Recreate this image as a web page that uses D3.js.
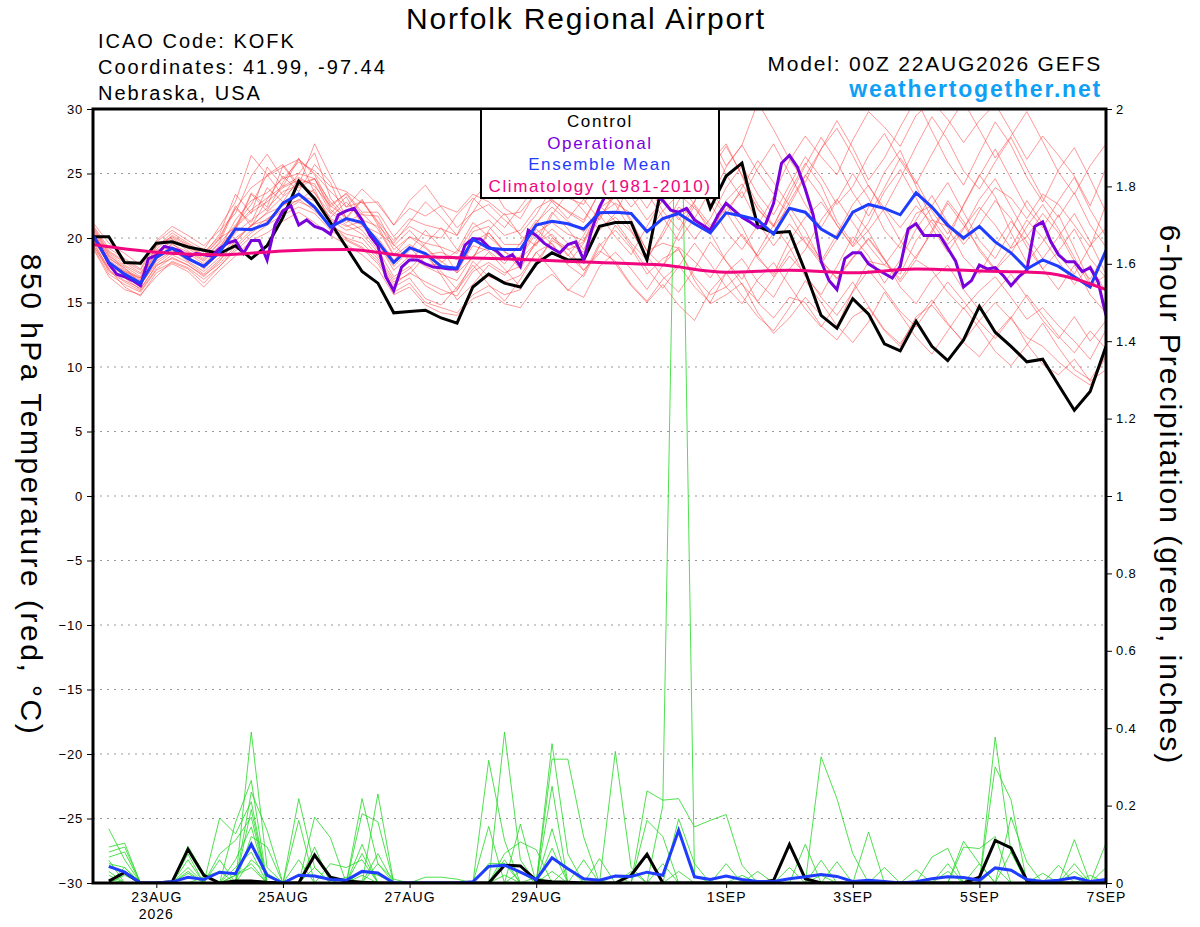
<!DOCTYPE html>
<html>
<head>
<meta charset="utf-8">
<script src="https://cdn.jsdelivr.net/npm/d3@7"></script>
<style>
  body { margin: 0; background: #fff; }
  text { font-family: "Liberation Sans", Arial, sans-serif; }
</style>
</head>
<body>
<div id="chart-area"></div>
<script>
// ---- data ----
var startTime = "2026-08-22T00:00:00Z";
var endTime = "2026-09-07T00:00:00Z";

var tickDates = ["2026-08-23T00:00:00Z", "2026-08-25T00:00:00Z", "2026-08-27T00:00:00Z", "2026-08-29T00:00:00Z",
                 "2026-09-01T00:00:00Z", "2026-09-03T00:00:00Z", "2026-09-05T00:00:00Z", "2026-09-07T00:00:00Z"];
var tickLabels = ["23AUG", "25AUG", "27AUG", "29AUG", "1SEP", "3SEP", "5SEP", "7SEP"];
var tempTicks = [30, 25, 20, 15, 10, 5, 0, -5, -10, -15, -20, -25, -30];
var gridTemps = [25, 20, 15, 10, 5, 0, -5, -10, -15, -20, -25];
var precipTicks = [0, 0.2, 0.4, 0.6, 0.8, 1, 1.2, 1.4, 1.6, 1.8, 2];
var legendNames = ["Control", "Operational", "Ensemble Mean", "Climatology (1981-2010)"];

// 6-hourly, 22AUG 00Z .. 7SEP 00Z
var controlTemp = [20.1, 20.1, 18.1, 18.05, 19.6, 19.7, 19.3, 19.05, 18.8,
  19.4, 18.4, 19.4, 21.6, 24.4, 23.05, 21.2, 19.3, 17.4,
  16.5, 14.2, 14.3, 14.4, 13.8, 13.4, 16.2, 17.2, 16.5,
  16.2, 18.0, 18.85, 18.3, 18.3, 20.9, 21.2, 21.2, 18.3,
  24.5, 24.0, 26.0, 22.3, 24.8, 25.8, 20.9, 20.4, 20.5,
  17.4, 14.0, 13.0, 15.3, 14.1, 11.8, 11.25, 13.55, 11.6,
  10.5, 12.1, 14.7, 12.7, 11.6, 10.4, 10.6, 8.6, 6.65, 8.1, 11.6];

var meanTemp = [20.2, 18.1, 17.2, 16.5, 18.5, 19.2, 18.4, 17.8, 18.9,
  20.7, 20.65, 21.1, 22.7, 23.4, 22.4, 20.85, 21.5, 21.2,
  19.7, 18.1, 19.25, 18.8, 17.8, 17.65, 19.9, 19.2, 19.1,
  19.1, 21.0, 21.3, 21.1, 20.7, 21.95, 22.0, 21.9, 20.5,
  21.5, 21.9, 21.1, 20.4, 21.95, 21.7, 21.4, 20.3, 22.3,
  22.0, 20.7, 20.0, 22.0, 22.6, 22.3, 21.8, 23.5, 22.4,
  21.0, 20.0, 20.9, 19.7, 18.85, 17.6, 18.3, 17.8, 17.0, 16.2, 19.05];

// operational run, 3-hourly
var operTemp = [20.2, 19.2, 18.0, 17.2, 17.0, 16.7, 16.3, 18.4, 18.65, 19.35,
  19.2, 19.0, 18.5, 18.8, 18.7, 18.6, 19.2, 19.6, 19.8, 18.8,
  19.8, 19.8, 18.3, 21.0, 22.1, 22.5, 21.0, 21.4, 20.9, 20.7,
  20.3, 21.8, 22.1, 22.3, 21.4, 20.2, 19.4, 17.0, 15.9, 17.75,
  18.3, 18.3, 18.0, 17.75, 17.7, 17.6, 17.6, 19.45, 19.95, 19.9,
  19.3, 19.0, 18.4, 18.7, 17.8, 20.6, 20.2, 19.6, 19.2, 18.85,
  19.5, 19.7, 18.3, 20.6, 22.4, 23.6, 24.2, 24.0, 23.6, 24.1,
  23.6, 23.3, 22.9, 22.15, 22.0, 22.3, 21.4, 21.0, 20.6, 21.8,
  22.7, 22.15, 21.6, 21.25, 20.8, 21.1, 22.7, 25.8, 26.4, 25.5,
  23.8, 21.8, 18.2, 16.7, 16.0, 18.4, 18.85, 18.85, 18.0, 17.6,
  17.25, 16.9, 17.8, 20.7, 21.1, 20.2, 20.2, 20.2, 19.2, 18.2,
  16.2, 16.7, 17.9, 17.6, 17.7, 17.1, 16.3, 17.0, 17.5, 20.9,
  21.25, 19.75, 18.7, 18.15, 18.15, 17.4, 17.7, 16.6, 14.0];

// climatology, daily
var climTemp = [19.5, 18.9, 18.7, 19.0, 19.1, 18.6, 18.45, 18.3, 18.1, 17.9, 17.35, 17.5, 17.3, 17.6, 17.45, 17.3, 16.0];

// ensemble members, 6-hourly
var memberTemps = [
  [20.5, 18.5, 17.5, 16.8, 18.8, 19.5, 18.9, 18.2, 19.4,
   20.6, 23.4, 22.1, 24.3, 26.2, 23.5, 21.9, 23.2, 21.0,
   20.4, 19.5, 18.2, 19.6, 20.8, 19.1, 18.4, 20.6, 21.9,
   20.2, 19.4, 21.8, 23.5, 22.1, 20.6, 21.9, 24.3, 25.6,
   23.1, 21.4, 22.8, 25.9, 27.3, 24.8, 22.2, 20.9, 23.6,
   25.8, 24.1, 21.3, 19.6, 22.4, 25.1, 26.8, 24.0, 21.5,
   19.8, 22.6, 24.9, 23.2, 20.4, 18.1, 19.7, 21.8, 19.2, 16.5, 18.7],
  [19.3, 17.2, 16.4, 15.8, 17.5, 18.1, 17.6, 16.5, 17.8,
   19.0, 20.1, 21.0, 21.8, 22.4, 21.9, 20.6, 19.8, 19.2,
   18.0, 16.2, 16.9, 15.3, 14.8, 16.2, 17.9, 16.4, 15.1,
   16.8, 18.9, 17.5, 15.9, 17.2, 19.6, 18.0, 16.3, 15.0,
   16.4, 14.8, 13.6, 15.9, 17.3, 15.5, 13.9, 12.8, 14.6,
   16.7, 15.0, 13.2, 11.9, 13.5, 15.8, 14.1, 12.3, 11.0,
   12.8, 14.6, 13.0, 11.2, 10.1, 11.7, 13.4, 11.5, 9.8, 9.0, 10.9],
  [21.2, 19.6, 18.8, 17.9, 19.7, 20.6, 19.8, 19.1, 20.9,
   22.8, 26.4, 24.9, 25.7, 24.1, 27.3, 24.8, 22.4, 23.8,
   22.6, 21.0, 22.9, 24.1, 22.4, 20.8, 22.0, 23.9, 25.0,
   23.2, 24.8, 26.9, 25.0, 23.4, 24.7, 27.5, 29.2, 27.0,
   25.1, 26.8, 29.4, 28.0, 25.6, 27.2, 30.5, 28.4, 26.1,
   24.3, 26.9, 29.1, 27.0, 24.5, 26.2, 28.6, 30.8, 28.3,
   25.9, 24.1, 26.6, 29.0, 27.2, 24.7, 22.8, 25.3, 27.0, 24.6, 22.0],
  [20.0, 18.2, 17.0, 16.3, 18.2, 19.0, 18.6, 17.6, 18.8,
   20.4, 21.4, 22.3, 23.6, 24.1, 23.5, 21.5, 20.9, 21.3,
   19.6, 17.8, 19.0, 20.6, 19.2, 17.3, 18.5, 20.4, 19.0,
   17.6, 19.8, 22.0, 20.7, 19.1, 21.6, 23.3, 21.2, 19.0,
   17.8, 20.3, 22.5, 20.4, 18.2, 16.8, 18.9, 21.0, 19.3,
   17.0, 15.6, 17.8, 20.1, 18.6, 16.5, 18.3, 20.7, 22.4,
   20.8, 18.5, 17.2, 19.4, 21.3, 19.7, 17.6, 16.0, 17.9, 15.6, 14.2],
  [20.8, 18.9, 18.1, 17.3, 19.1, 20.2, 19.5, 18.7, 20.3,
   23.4, 21.9, 25.5, 24.0, 26.1, 24.9, 22.6, 23.4, 21.8,
   21.7, 19.4, 20.6, 19.3, 18.2, 17.3, 19.7, 20.4, 18.9,
   18.4, 19.6, 20.3, 18.7, 17.5, 19.0, 18.2, 16.4, 15.1,
   16.8, 17.9, 16.2, 15.0, 17.3, 18.4, 16.6, 15.4, 17.6,
   19.1, 21.4, 23.0, 21.2, 19.4, 17.9, 19.6, 21.9, 22.5,
   24.3, 22.0, 19.8, 18.4, 20.6, 22.9, 21.1, 18.7, 17.2, 19.4, 20.8],
  [19.6, 17.7, 16.9, 16.0, 17.9, 18.4, 17.9, 17.1, 18.0,
   19.4, 20.6, 21.5, 22.2, 23.0, 22.1, 20.9, 20.3, 20.0,
   18.6, 16.8, 17.6, 18.9, 17.1, 15.2, 16.4, 17.9, 17.1,
   18.6, 20.7, 19.5, 18.0, 19.6, 21.8, 20.1, 18.7, 20.9,
   23.0, 21.6, 19.9, 21.5, 23.9, 25.6, 23.4, 21.8, 24.1,
   26.3, 24.7, 22.6, 24.0, 26.4, 28.1, 26.0, 24.2, 26.5,
   28.7, 30.6, 28.4, 26.2, 27.9, 29.8, 27.5, 25.1, 23.4, 25.6, 27.3],
  [20.1, 18.0, 17.3, 16.6, 18.6, 19.1, 18.2, 17.4, 18.5,
   20.0, 20.9, 22.0, 23.2, 24.2, 24.6, 22.8, 21.4, 20.6,
   19.1, 17.0, 17.8, 16.3, 15.6, 15.9, 18.2, 17.0, 16.6,
   17.1, 18.9, 19.6, 17.9, 17.0, 19.4, 20.6, 19.2, 17.2,
   18.4, 19.1, 17.0, 15.6, 16.2, 17.4, 15.0, 13.8, 15.4,
   15.0, 13.2, 12.1, 13.9, 14.6, 12.8, 11.6, 13.9, 14.8,
   13.3, 12.0, 13.6, 15.0, 13.7, 12.3, 11.6, 10.4, 9.4, 8.6, 10.8],
  [20.4, 18.6, 17.8, 17.0, 19.4, 20.0, 19.2, 18.4, 19.6,
   21.0, 22.6, 24.9, 23.3, 25.0, 26.6, 23.1, 21.6, 23.0,
   21.0, 19.6, 21.2, 22.8, 21.6, 20.2, 22.9, 24.4, 22.3,
   21.5, 23.6, 26.8, 25.4, 23.6, 25.9, 28.7, 30.4, 28.1,
   26.0, 27.9, 29.8, 27.5, 24.9, 23.1, 25.4, 27.3, 25.0,
   22.6, 20.8, 22.9, 25.0, 23.1, 20.6, 19.2, 21.4, 23.3,
   21.2, 19.5, 21.0, 22.9, 21.5, 19.3, 17.6, 19.0, 20.7, 18.4, 16.9],
  [19.8, 17.5, 16.7, 16.1, 17.8, 18.7, 18.1, 17.2, 18.3,
   19.7, 21.0, 21.4, 22.6, 22.9, 23.8, 21.2, 20.0, 19.6,
   18.4, 16.6, 17.2, 18.6, 17.4, 16.0, 17.6, 18.9, 17.6,
   16.2, 17.8, 20.0, 19.2, 17.5, 18.8, 21.0, 19.4, 17.6,
   16.1, 17.8, 19.6, 18.0, 16.2, 14.9, 16.8, 18.1, 16.3,
   14.5, 13.1, 14.9, 16.6, 14.7, 12.9, 11.8, 13.6, 15.2,
   13.4, 11.9, 10.8, 12.5, 13.9, 11.8, 10.2, 9.4, 10.6, 8.9, 9.8],
  [20.6, 18.7, 17.6, 16.9, 19.0, 19.7, 19.3, 18.6, 19.9,
   22.5, 20.9, 23.0, 24.8, 23.6, 25.7, 24.3, 21.5, 22.9,
   21.3, 19.8, 20.9, 20.2, 20.0, 21.8, 23.1, 21.9, 20.8,
   22.4, 24.1, 22.8, 21.5, 23.0, 25.2, 24.0, 22.4, 23.8,
   26.1, 27.6, 25.4, 23.2, 21.8, 23.9, 26.0, 24.3, 22.5,
   24.8, 26.9, 28.5, 26.4, 24.0, 22.3, 24.6, 27.1, 29.4,
   27.6, 25.2, 23.8, 25.9, 27.8, 25.4, 23.1, 21.6, 23.5, 21.0, 19.3],
  [19.9, 17.9, 17.1, 16.4, 18.0, 18.9, 18.4, 17.8, 19.0,
   20.8, 22.0, 22.8, 23.9, 24.5, 24.2, 22.0, 21.0, 20.3,
   18.9, 15.8, 16.5, 15.0, 14.6, 14.2, 15.6, 16.3, 15.6,
   16.0, 18.2, 19.8, 19.1, 19.7, 22.6, 24.0, 23.2, 21.4,
   22.9, 24.2, 22.6, 21.0, 22.2, 23.6, 21.2, 19.4, 21.1,
   19.6, 18.0, 19.9, 22.1, 20.5, 18.3, 16.8, 18.6, 20.4,
   22.7, 21.0, 19.2, 17.6, 19.3, 21.4, 20.0, 18.2, 16.4, 17.9, 15.8],
  [20.3, 18.3, 17.4, 16.7, 18.4, 19.3, 18.8, 18.0, 19.2,
   21.4, 22.9, 23.5, 24.6, 25.0, 24.6, 22.2, 21.2, 21.9,
   20.7, 18.6, 19.5, 18.7, 18.9, 18.3, 20.5, 20.9, 19.5,
   19.5, 21.2, 22.4, 21.3, 20.5, 22.3, 23.2, 21.4, 19.0,
   19.6, 19.2, 16.7, 14.9, 15.6, 16.5, 14.2, 12.6, 13.8,
   15.4, 14.0, 13.1, 15.9, 18.2, 17.9, 17.2, 19.8, 21.4,
   20.9, 19.8, 22.1, 23.9, 23.1, 21.5, 23.4, 22.6, 21.0, 19.3, 22.6],
  [21.0, 19.2, 18.4, 17.6, 19.8, 20.9, 20.2, 19.4, 20.6,
   21.9, 24.8, 26.5, 24.6, 25.9, 25.2, 24.0, 23.6, 22.7,
   22.8, 21.0, 22.3, 21.7, 22.5, 22.0, 23.4, 22.8, 21.8,
   22.0, 23.5, 24.2, 23.1, 22.6, 24.9, 26.4, 25.3, 23.5,
   21.6, 19.8, 21.5, 23.7, 22.0, 20.1, 18.6, 20.4, 22.8,
   24.9, 23.2, 21.0, 19.4, 21.2, 23.6, 25.3, 23.1, 20.8,
   18.9, 20.7, 23.0, 24.6, 22.4, 20.2, 18.4, 20.1, 21.9, 19.7, 17.2],
  [19.5, 17.4, 16.6, 15.9, 17.6, 18.5, 17.9, 17.0, 18.2,
   19.8, 21.0, 21.9, 22.5, 23.3, 22.9, 21.4, 20.6, 20.9,
   19.6, 17.5, 18.6, 17.8, 17.2, 16.7, 18.6, 19.3, 18.3,
   18.5, 20.4, 21.2, 20.3, 19.8, 21.8, 22.7, 21.9, 20.4,
   22.1, 23.4, 22.3, 20.8, 22.9, 24.2, 22.3, 20.9, 22.4,
   20.6, 18.2, 16.9, 18.5, 20.0, 18.4, 16.2, 14.9, 16.8,
   17.9, 16.0, 14.4, 15.8, 17.2, 15.4, 13.6, 12.2, 13.9, 12.0, 13.6],
  [20.7, 18.8, 17.9, 17.2, 19.3, 20.4, 19.6, 18.9, 20.1,
   22.3, 23.9, 24.8, 25.5, 26.1, 25.0, 23.6, 22.4, 22.8,
   21.2, 19.1, 20.1, 19.6, 19.3, 18.8, 20.8, 21.4, 20.2,
   20.6, 22.3, 23.0, 22.0, 21.2, 23.6, 25.3, 24.1, 22.3,
   24.4, 26.1, 24.5, 23.0, 25.5, 27.2, 25.1, 23.4, 26.0,
   27.9, 26.3, 24.9, 27.6, 29.8, 28.6, 27.1, 29.5, 30.6,
   29.2, 27.4, 29.1, 30.4, 28.3, 26.1, 27.9, 26.4, 24.8, 22.5, 25.4],
  [20.2, 18.4, 17.7, 16.5, 18.3, 19.6, 18.5, 17.9, 19.1,
   20.9, 22.2, 23.1, 24.0, 24.7, 24.0, 22.5, 21.6, 21.0,
   20.0, 18.3, 19.3, 18.0, 17.9, 17.5, 19.4, 19.0, 18.0,
   19.6, 21.4, 20.1, 18.6, 20.2, 22.5, 21.3, 19.6, 18.3,
   20.5, 22.9, 24.6, 22.7, 20.5, 19.1, 21.0, 23.2, 21.9,
   19.7, 18.2, 20.3, 22.6, 24.1, 22.0, 19.8, 18.4, 20.6,
   22.9, 21.3, 19.0, 17.5, 18.8, 20.9, 22.6, 20.7, 18.5, 16.3, 17.1],
  [19.4, 17.6, 16.2, 15.5, 17.3, 18.0, 17.4, 16.2, 17.5,
   18.6, 19.8, 20.4, 21.3, 22.0, 21.2, 20.2, 19.5, 18.7,
   17.6, 15.6, 16.2, 14.8, 14.2, 14.0, 15.3, 15.8, 14.9,
   14.6, 16.3, 17.2, 16.0, 15.4, 17.8, 18.9, 17.6, 16.0,
   17.9, 19.3, 18.2, 16.9, 18.8, 20.3, 18.6, 17.0, 19.0,
   20.1, 18.3, 16.8, 18.4, 19.9, 18.3, 16.6, 18.3, 17.5,
   15.8, 14.5, 15.9, 17.0, 15.4, 13.7, 14.6, 13.2, 12.0, 10.6, 12.9],
  [20.9, 19.0, 18.2, 17.5, 19.5, 20.1, 19.4, 18.6, 20.0,
   20.8, 23.5, 22.4, 25.6, 23.9, 24.6, 22.4, 23.5, 22.0,
   22.0, 20.1, 21.5, 21.0, 20.7, 20.2, 22.0, 22.6, 21.4,
   20.3, 21.8, 23.9, 25.1, 23.0, 21.4, 23.7, 26.0, 24.2,
   22.1, 20.6, 22.8, 25.3, 27.1, 24.9, 22.6, 21.0, 23.2,
   25.6, 27.8, 25.9, 23.5, 21.7, 23.9, 26.2, 24.4, 22.1,
   20.3, 22.5, 24.8, 26.9, 24.6, 22.3, 20.8, 22.9, 24.7, 22.2, 20.1],
  [20.0, 18.1, 17.4, 16.9, 18.9, 19.9, 19.0, 18.3, 19.7,
   22.3, 21.2, 23.9, 22.8, 24.6, 23.0, 21.6, 22.8, 21.4,
   20.9, 18.7, 20.1, 19.2, 18.1, 19.0, 21.2, 20.1, 19.0,
   19.2, 21.1, 22.9, 22.1, 21.4, 23.5, 22.6, 20.6, 18.5,
   20.2, 22.4, 21.6, 20.3, 22.6, 20.9, 18.4, 17.2, 19.8,
   21.6, 22.8, 21.0, 19.3, 20.6, 22.3, 20.8, 22.5, 21.2,
   19.5, 20.8, 22.4, 21.0, 19.2, 20.1, 21.9, 20.4, 18.2, 16.8, 18.9],
  [19.2, 17.0, 16.0, 15.6, 17.0, 18.2, 17.7, 16.8, 17.8,
   19.2, 20.4, 21.3, 22.1, 22.8, 22.3, 21.0, 19.9, 19.3,
   18.2, 16.4, 17.3, 16.6, 16.0, 15.5, 17.4, 18.1, 17.3,
   17.8, 19.6, 20.7, 19.6, 18.9, 20.8, 21.6, 20.5, 18.6,
   17.0, 15.8, 17.6, 19.7, 18.2, 16.4, 15.1, 16.9, 18.6,
   17.2, 15.4, 14.0, 15.8, 17.5, 16.0, 14.3, 13.1, 14.9,
   16.6, 15.1, 13.5, 12.2, 13.8, 15.6, 14.0, 12.4, 11.1, 12.8, 11.4]
];

// 6-hour precipitation, 22AUG 06Z .. 7SEP 00Z
var controlPrecip = [0.005, 0.027, 0, 0, 0.003, 0.087, 0.02, 0,
  0.005, 0.005, 0.002, 0, 0, 0.072, 0.015, 0.005,
  0.002, 0, 0, 0, 0, 0, 0, 0,
  0, 0.046, 0.044, 0.007, 0.003, 0.002, 0, 0,
  0, 0.02, 0.074, 0, 0, 0, 0, 0,
  0, 0, 0.007, 0.10, 0.011, 0, 0, 0,
  0, 0, 0, 0, 0, 0, 0, 0.015,
  0.11, 0.091, 0.007, 0, 0, 0, 0, 0];

var meanPrecip = [0.043, 0.028, 0, 0, 0.003, 0.015, 0.009, 0.028,
  0.024, 0.1, 0.02, 0, 0.02, 0.018, 0.009, 0.007,
  0.03, 0.026, 0, 0, 0, 0, 0, 0.003,
  0.043, 0.046, 0.028, 0.009, 0.065, 0.037, 0.011, 0.007,
  0.018, 0.017, 0.028, 0.02, 0.136, 0.016, 0.009, 0.018,
  0.009, 0.004, 0.004, 0.011, 0.016, 0.022, 0.017, 0.004,
  0.007, 0.004, 0, 0.003, 0.011, 0.016, 0.014, 0.007,
  0.039, 0.033, 0.009, 0.004, 0.007, 0.014, 0.004, 0.009];

var memberPrecips = [
  [0.14, 0.06, 0, 0, 0, 0, 0, 0,  0, 0.39, 0.04, 0, 0, 0, 0, 0,
   0.218, 0.05, 0, 0, 0, 0, 0, 0,  0, 0, 0, 0, 0.36, 0.075, 0, 0,
   0, 0, 0, 0, 0, 0, 0, 0,  0, 0, 0, 0, 0, 0, 0, 0,
   0, 0, 0, 0, 0, 0, 0, 0,  0.377, 0.08, 0, 0, 0, 0, 0, 0.04],
  [0.093, 0.103, 0, 0, 0, 0, 0, 0,  0.156, 0.265, 0, 0, 0.218, 0.04, 0, 0,
   0, 0, 0, 0, 0, 0, 0, 0,  0, 0.39, 0.06, 0, 0, 0, 0, 0,
   0, 0, 0, 0, 0, 0, 0, 0,  0, 0, 0, 0, 0, 0.326, 0.218, 0.076,
   0, 0, 0, 0, 0, 0, 0, 0,  0, 0, 0, 0, 0, 0, 0, 0],
  [0.08, 0.093, 0, 0, 0, 0.095, 0.025, 0,  0, 0.235, 0.136, 0, 0, 0, 0, 0,
   0, 0, 0, 0, 0, 0, 0, 0,  0.317, 0.11, 0, 0, 0, 0, 0, 0,
   0.34, 0.04, 0, 0, 0, 0, 0, 0,  0, 0, 0, 0, 0, 0, 0, 0,
   0, 0, 0, 0, 0, 0, 0, 0,  0.30, 0.215, 0, 0, 0, 0, 0, 0],
  [0.067, 0.08, 0, 0, 0, 0, 0, 0.168,  0.127, 0.21, 0, 0, 0, 0, 0, 0,
   0, 0.23, 0, 0, 0, 0, 0, 0,  0, 0, 0, 0, 0.32, 0.32, 0.119, 0,
   0, 0, 0, 0.2, 2.5, 0.02, 0, 0,  0, 0, 0, 0, 0, 0, 0, 0,
   0, 0, 0, 0, 0, 0, 0.108, 0.05,  0, 0, 0, 0, 0, 0, 0, 0],
  [0.059, 0, 0, 0, 0, 0.075, 0, 0,  0, 0.19, 0, 0, 0, 0.17, 0.117, 0,
   0.179, 0.158, 0, 0, 0, 0, 0, 0,  0, 0, 0, 0, 0.25, 0, 0, 0,
   0, 0, 0.238, 0.214, 0.218, 0.145, 0.162, 0.177,  0.046, 0, 0, 0, 0, 0, 0, 0,
   0, 0, 0, 0, 0, 0, 0, 0,  0, 0, 0, 0, 0, 0, 0, 0],
  [0, 0.04, 0, 0, 0, 0.06, 0, 0.075,  0.11, 0.17, 0, 0, 0.162, 0, 0, 0,
   0.10, 0, 0, 0, 0, 0, 0, 0,  0.146, 0, 0.152, 0, 0.14, 0, 0, 0,
   0, 0, 0.162, 0.12, 0, 0, 0, 0,  0, 0, 0, 0, 0, 0, 0, 0,
   0.132, 0, 0, 0, 0.067, 0.09, 0, 0,  0, 0, 0, 0, 0, 0.112, 0, 0],
  [0.04, 0.03, 0, 0, 0, 0.04, 0, 0,  0.06, 0.145, 0, 0, 0, 0.093, 0, 0,
   0, 0.076, 0, 0, 0, 0, 0, 0,  0, 0.076, 0.106, 0.086, 0, 0, 0, 0,
   0, 0, 0, 0, 0, 0, 0, 0,  0, 0, 0, 0, 0.10, 0, 0, 0,
   0, 0, 0, 0, 0, 0, 0.093, 0.089,  0.12, 0, 0, 0, 0, 0, 0, 0.103],
  [0.03, 0, 0, 0, 0, 0, 0, 0.06,  0, 0.12, 0.093, 0, 0.06, 0, 0, 0,
   0.076, 0, 0, 0, 0, 0, 0, 0,  0, 0.06, 0, 0, 0.09, 0, 0, 0.063,
   0, 0, 0, 0.05, 0, 0, 0, 0,  0, 0, 0, 0.04, 0, 0, 0, 0,
   0, 0, 0, 0, 0, 0.05, 0, 0,  0, 0.17, 0.054, 0, 0.046, 0, 0, 0],
  [0.02, 0, 0, 0, 0, 0.025, 0, 0,  0.04, 0.08, 0, 0, 0, 0, 0.05, 0.04,
   0.06, 0, 0, 0, 0.015, 0.015, 0.01, 0,  0, 0, 0, 0.015, 0, 0, 0.06, 0,
   0, 0, 0, 0, 0, 0, 0, 0.05,  0, 0, 0, 0, 0, 0, 0.055, 0,
   0, 0, 0, 0.034, 0, 0, 0, 0,  0, 0, 0, 0, 0, 0.05, 0, 0],
  [0, 0.02, 0, 0, 0, 0, 0.015, 0.03,  0, 0.06, 0.025, 0, 0, 0.04, 0, 0.015,
   0, 0.05, 0.01, 0, 0, 0, 0, 0,  0.05, 0.05, 0, 0, 0, 0.04, 0, 0,
   0, 0.03, 0, 0, 0, 0, 0, 0,  0, 0.03, 0, 0, 0, 0.059, 0, 0,
   0, 0.04, 0, 0, 0, 0, 0, 0.05,  0, 0, 0, 0.025, 0, 0, 0.02, 0],
  [0.05, 0.04, 0, 0, 0, 0.03, 0, 0,  0.02, 0.04, 0, 0, 0, 0, 0, 0,
   0.03, 0.02, 0, 0, 0, 0, 0, 0,  0, 0, 0.03, 0, 0, 0, 0, 0,
   0, 0, 0, 0, 0.166, 0.05, 0, 0,  0.02, 0, 0, 0, 0, 0, 0, 0,
   0, 0, 0, 0, 0, 0.03, 0, 0,  0, 0.08, 0, 0, 0, 0, 0, 0],
  [0.01, 0, 0, 0, 0, 0, 0, 0,  0.02, 0.05, 0, 0, 0, 0, 0, 0,
   0.02, 0, 0, 0, 0, 0, 0, 0,  0, 0.02, 0, 0, 0.03, 0, 0, 0,
   0.02, 0, 0, 0, 0.03, 0, 0, 0,  0, 0, 0, 0, 0, 0.02, 0, 0,
   0, 0, 0, 0, 0, 0, 0, 0,  0.04, 0, 0, 0, 0, 0.03, 0, 0]
];

// ---- layout ----
var width = 1200;
var height = 927;
var plot = {left: 93, right: 1106, top: 109, bottom: 883};

var svg = d3.select("#chart-area").append("svg")
	.attr("width", width)
	.attr("height", height)
	.style("background", "#fff");

var t0 = new Date(startTime);
var hour = 3600 * 1000;
function timeAt(i, step) { return new Date(t0.getTime() + i * step * hour); }

var x = d3.scaleUtc()
	.domain([t0, new Date(endTime)])
	.range([plot.left, plot.right]);

var yT = d3.scaleLinear()
	.domain([-30, 30])
	.range([plot.bottom, plot.top]);

var yP = d3.scaleLinear()
	.domain([0, 2])
	.range([plot.bottom, plot.top]);

svg.append("defs").append("clipPath")
	.attr("id", "plot-clip")
	.append("rect")
		.attr("x", plot.left)
		.attr("y", plot.top)
		.attr("width", plot.right - plot.left)
		.attr("height", plot.bottom - plot.top);

// grid
svg.append("g").selectAll("line")
	.data(gridTemps)
	.enter()
	.append("line")
		.attr("x1", plot.left)
		.attr("x2", plot.right)
		.attr("y1", d => yT(d))
		.attr("y2", d => yT(d))
		.attr("stroke", "#999")
		.attr("stroke-width", 1)
		.attr("stroke-dasharray", "2,5");

var g = svg.append("g").attr("clip-path", "url(#plot-clip)");

var tempLine6 = d3.line()
	.x((d, i) => x(timeAt(i, 6)))
	.y(d => yT(d));

var tempLine3 = d3.line()
	.x((d, i) => x(timeAt(i, 3)))
	.y(d => yT(d));

var precipLine = d3.line()
	.x((d, i) => x(timeAt(i + 1, 6)))
	.y(d => yP(d));

var climLine = d3.line()
	.x((d, i) => x(timeAt(i, 24)))
	.y(d => yT(d))
	.curve(d3.curveMonotoneX);

// ensemble members
g.selectAll(".member-temp")
	.data(memberTemps)
	.enter()
	.append("path")
		.attr("class", "member-temp")
		.attr("d", tempLine6)
		.attr("fill", "none")
		.attr("stroke", "#ff3c3c")
		.attr("stroke-opacity", 0.7)
		.attr("stroke-width", 0.75);

g.selectAll(".member-precip")
	.data(memberPrecips)
	.enter()
	.append("path")
		.attr("class", "member-precip")
		.attr("d", precipLine)
		.attr("fill", "none")
		.attr("stroke", "#22d822")
		.attr("stroke-width", 0.8);

// control
g.append("path").datum(controlPrecip)
	.attr("d", precipLine)
	.attr("fill", "none").attr("stroke", "#000").attr("stroke-width", 3);
g.append("path").datum(controlTemp)
	.attr("d", tempLine6)
	.attr("fill", "none").attr("stroke", "#000").attr("stroke-width", 3);

// operational
g.append("path").datum(operTemp)
	.attr("d", tempLine3)
	.attr("fill", "none").attr("stroke", "#7a00dc").attr("stroke-width", 3);

// ensemble mean
g.append("path").datum(meanPrecip)
	.attr("d", precipLine)
	.attr("fill", "none").attr("stroke", "#1f3cff").attr("stroke-width", 3);
g.append("path").datum(meanTemp)
	.attr("d", tempLine6)
	.attr("fill", "none").attr("stroke", "#1f3cff").attr("stroke-width", 3);

// climatology
g.append("path").datum(climTemp)
	.attr("d", climLine)
	.attr("fill", "none").attr("stroke", "#f0067e").attr("stroke-width", 3);

// frame
svg.append("rect")
	.attr("x", plot.left)
	.attr("y", plot.top)
	.attr("width", plot.right - plot.left)
	.attr("height", plot.bottom - plot.top)
	.attr("fill", "none")
	.attr("stroke", "#000")
	.attr("stroke-width", 3);

// axes
var leftAxis = d3.axisLeft(yT).tickValues(tempTicks).tickSize(6).tickSizeOuter(0).tickPadding(4);
var la = svg.append("g")
	.attr("transform", "translate(" + plot.left + ",0)")
	.call(leftAxis);
la.select(".domain").remove();
la.selectAll("text").attr("font-size", "13px").attr("letter-spacing", "0.8px")
	.attr("font-family", "Liberation Sans, Arial, sans-serif").attr("fill", "#000");

var rightAxis = d3.axisRight(yP).tickValues(precipTicks).tickSize(6).tickSizeOuter(0).tickPadding(4)
	.tickFormat(d3.format("~g"));
var ra = svg.append("g")
	.attr("transform", "translate(" + plot.right + ",0)")
	.call(rightAxis);
ra.select(".domain").remove();
ra.selectAll("text").attr("font-size", "13px").attr("letter-spacing", "0.8px")
	.attr("font-family", "Liberation Sans, Arial, sans-serif").attr("fill", "#000");

var bottomAxis = d3.axisBottom(x)
	.tickValues(tickDates.map(d => new Date(d)))
	.tickFormat((d, i) => tickLabels[i])
	.tickSize(5).tickSizeOuter(0).tickPadding(4);
var ba = svg.append("g")
	.attr("transform", "translate(0," + plot.bottom + ")")
	.call(bottomAxis);
ba.select(".domain").remove();
ba.selectAll("text").attr("font-size", "14px").attr("letter-spacing", "1px")
	.attr("font-family", "Liberation Sans, Arial, sans-serif").attr("fill", "#000");

svg.append("text")
	.attr("x", x(new Date(tickDates[0])))
	.attr("y", 919)
	.attr("text-anchor", "middle")
	.attr("font-size", "14px")
	.attr("letter-spacing", "1px")
	.text("2026");

// legend
var legendColors = ["#000", "#7a00dc", "#1f3cff", "#f0067e"];
svg.append("rect")
	.attr("x", 481).attr("y", plot.top)
	.attr("width", 238).attr("height", 89)
	.attr("fill", "#fff").attr("stroke", "#000").attr("stroke-width", 2);
svg.append("g").selectAll("text")
	.data(legendNames)
	.enter()
	.append("text")
		.attr("x", 600)
		.attr("y", (d, i) => 127 + i * 21.5)
		.attr("text-anchor", "middle")
		.attr("font-size", "17px")
		.attr("letter-spacing", "1.6px")
		.attr("fill", (d, i) => legendColors[i])
		.text(d => d);

// titles
svg.append("text")
	.attr("x", 586).attr("y", 29)
	.attr("text-anchor", "middle")
	.attr("font-size", "30px")
	.attr("letter-spacing", "1.8px")
	.text("Norfolk Regional Airport");

var infoLines = ["ICAO Code: KOFK", "Coordinates: 41.99, -97.44", "Nebraska, USA"];
svg.append("g").selectAll("text")
	.data(infoLines)
	.enter()
	.append("text")
		.attr("x", 98)
		.attr("y", (d, i) => 48 + i * 26.2)
		.attr("font-size", "20px")
		.attr("letter-spacing", "2px")
		.text(d => d);

svg.append("text")
	.attr("x", 1102).attr("y", 71)
	.attr("text-anchor", "end")
	.attr("font-size", "21px")
	.attr("letter-spacing", "1.8px")
	.text("Model: 00Z 22AUG2026 GEFS");

svg.append("text")
	.attr("x", 1102).attr("y", 97)
	.attr("text-anchor", "end")
	.attr("font-size", "23px")
	.attr("font-weight", "bold")
	.attr("letter-spacing", "1.8px")
	.attr("fill", "#0fa0f5")
	.text("weathertogether.net");

svg.append("text")
	.attr("transform", "translate(31,495) rotate(90)")
	.attr("text-anchor", "middle")
	.attr("dominant-baseline", "central")
	.attr("font-size", "30px")
	.attr("letter-spacing", "2.5px")
	.text("850 hPa Temperature (red, °C)");

svg.append("text")
	.attr("transform", "translate(1170,495) rotate(90)")
	.attr("text-anchor", "middle")
	.attr("dominant-baseline", "central")
	.attr("font-size", "30px")
	.attr("letter-spacing", "2px")
	.text("6-hour Precipitation (green, inches)");
</script>
</body>
</html>
